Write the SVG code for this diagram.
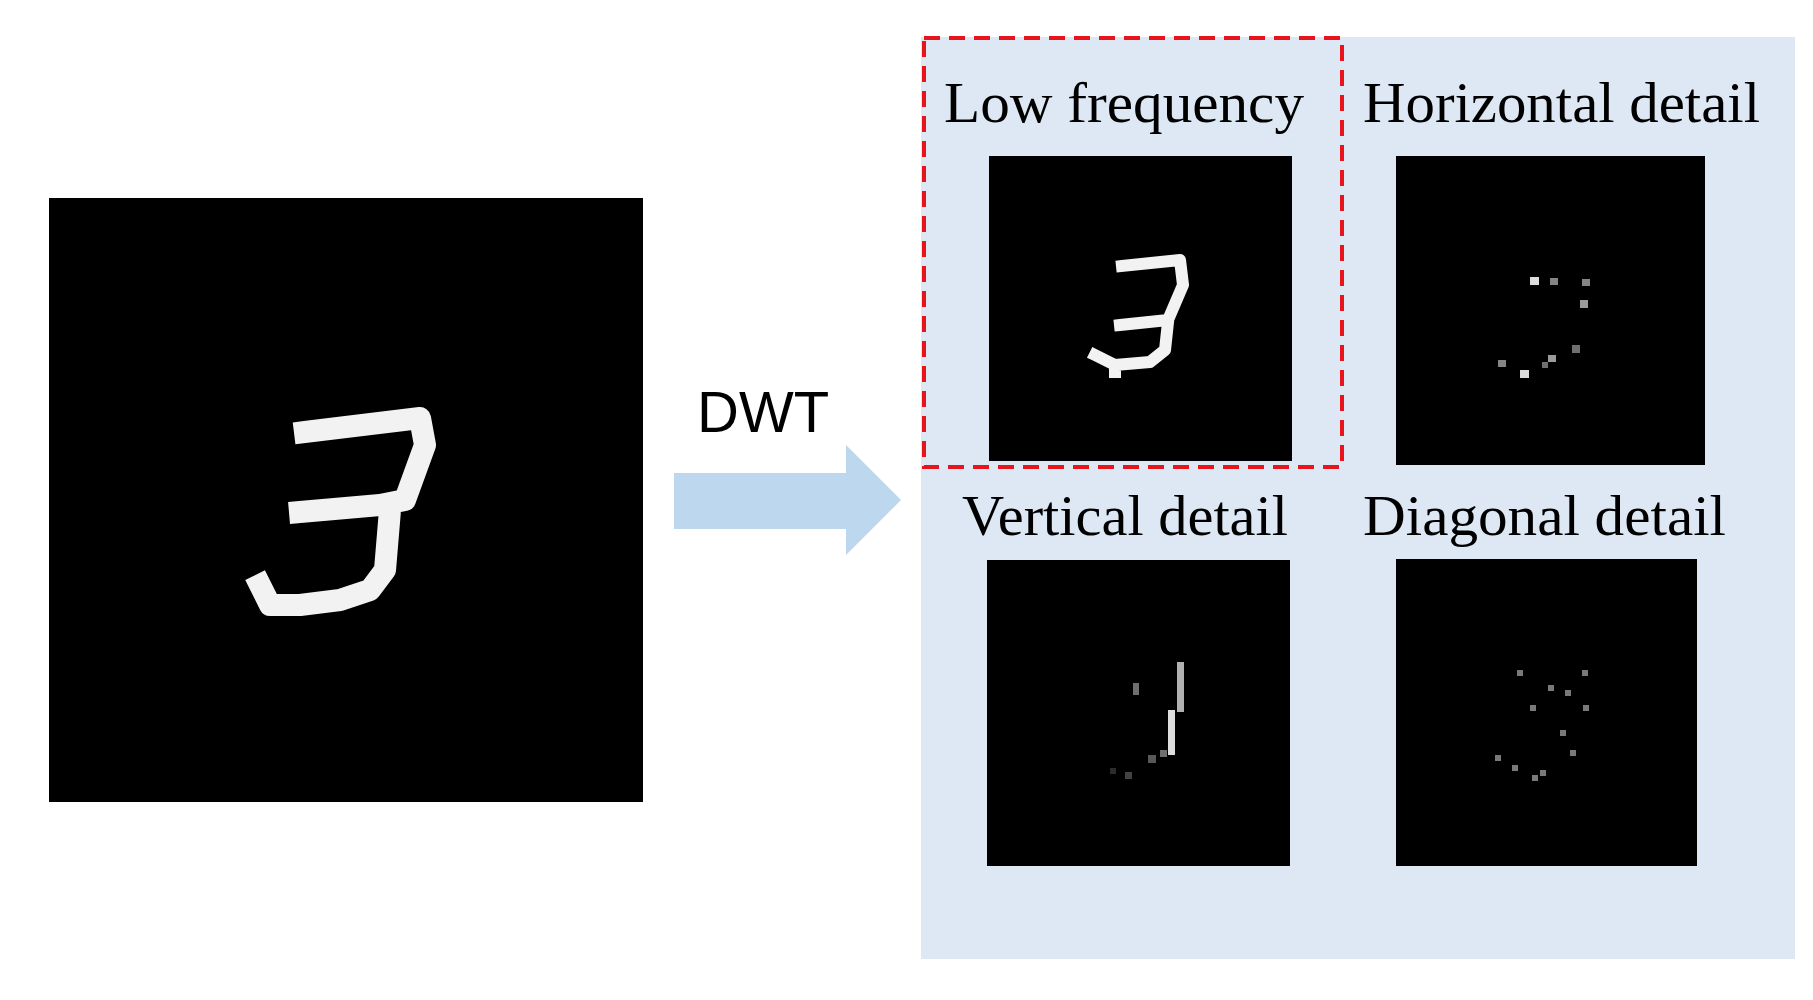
<svg xmlns="http://www.w3.org/2000/svg" width="1813" height="1000" viewBox="0 0 1813 1000">
<style>
.lbl{font-family:"Liberation Serif",serif;font-size:56px;fill:#000}
.img{fill:#000}
.dig{fill:none;stroke:#f2f2f2;stroke-linecap:square;stroke-linejoin:round}
.dot{fill:#ddd}
</style>
<rect width="1813" height="1000" fill="#fff"/>
<g id="input">
<rect class="img" x="49" y="198" width="594" height="604"/>
<path class="dig" stroke-width="22" d="M305 432 L420 418 L425 445 L405 500 L380 505 L300 512 M390 510 L385 570 L370 590 L340 600 L300 605 L270 605 L260 585"/>
</g>
<g id="connectors">
<polygon points="674,473 846,473 846,445 901,500 846,555 846,529 674,529" fill="#bdd7ee"/>
<text x="697" y="432" font-family="Liberation Sans,Arial,sans-serif" font-size="58">DWT</text>
</g>
<g id="panel">
<rect x="921" y="37" width="874" height="922" fill="#dde8f4"/>
</g>
<g id="low">
<rect x="924" y="38" width="418" height="429" fill="none" stroke="#e8141c" stroke-width="4" stroke-dasharray="16,9"/>
<text class="lbl" x="944" y="122" textLength="360" lengthAdjust="spacingAndGlyphs">Low frequency</text>
<rect class="img" x="989" y="156" width="303" height="305"/>
<path class="dig" stroke-width="12" d="M1122 266 L1180 260 L1183 285 L1168 320 L1120 325 M1168 322 L1165 350 L1150 362 L1115 365 L1095 355 M1115 365 L1115 372"/>
</g>
<g id="horizontal">
<text class="lbl" x="1363" y="122" textLength="397" lengthAdjust="spacingAndGlyphs">Horizontal detail</text>
<rect class="img" x="1396" y="156" width="309" height="309"/>
<rect class="dot" x="1530" y="277" width="9" height="8"/><rect class="dot" x="1550" y="278" width="8" height="7" opacity=".6"/><rect class="dot" x="1582" y="279" width="8" height="7" opacity=".6"/>
<rect class="dot" x="1580" y="300" width="8" height="8" opacity=".7"/><rect class="dot" x="1572" y="345" width="8" height="8" opacity=".5"/><rect class="dot" x="1548" y="355" width="8" height="7" opacity=".7"/>
<rect class="dot" x="1520" y="370" width="9" height="8"/><rect class="dot" x="1498" y="360" width="8" height="7" opacity=".6"/><rect class="dot" x="1542" y="362" width="6" height="6" opacity=".5"/>
</g>
<g id="vertical">
<text class="lbl" x="962" y="535" textLength="326" lengthAdjust="spacingAndGlyphs">Vertical detail</text>
<rect class="img" x="987" y="560" width="303" height="306"/>
<rect class="dot" x="1177" y="662" width="7" height="50" opacity=".8"/><rect class="dot" x="1168" y="710" width="7" height="45"/>
<rect class="dot" x="1133" y="683" width="6" height="12" opacity=".5"/><rect class="dot" x="1148" y="755" width="8" height="8" opacity=".4"/>
<rect class="dot" x="1125" y="772" width="7" height="7" opacity=".3"/><rect class="dot" x="1110" y="768" width="6" height="6" opacity=".2"/><rect class="dot" x="1160" y="750" width="7" height="7" opacity=".5"/>
</g>
<g id="diagonal">
<text class="lbl" x="1363" y="535" textLength="363" lengthAdjust="spacingAndGlyphs">Diagonal detail</text>
<rect class="img" x="1396" y="559" width="301" height="307"/>
<g opacity=".55">
<rect class="dot" x="1517" y="670" width="6" height="6"/><rect class="dot" x="1548" y="685" width="6" height="6"/><rect class="dot" x="1582" y="670" width="6" height="6"/>
<rect class="dot" x="1565" y="690" width="6" height="6"/><rect class="dot" x="1530" y="705" width="6" height="6"/><rect class="dot" x="1583" y="705" width="6" height="6"/>
<rect class="dot" x="1560" y="730" width="6" height="6"/><rect class="dot" x="1495" y="755" width="6" height="6"/><rect class="dot" x="1512" y="765" width="6" height="6"/>
<rect class="dot" x="1540" y="770" width="6" height="6"/><rect class="dot" x="1570" y="750" width="6" height="6"/><rect class="dot" x="1532" y="775" width="6" height="6"/>
</g>
</g>
</svg>
